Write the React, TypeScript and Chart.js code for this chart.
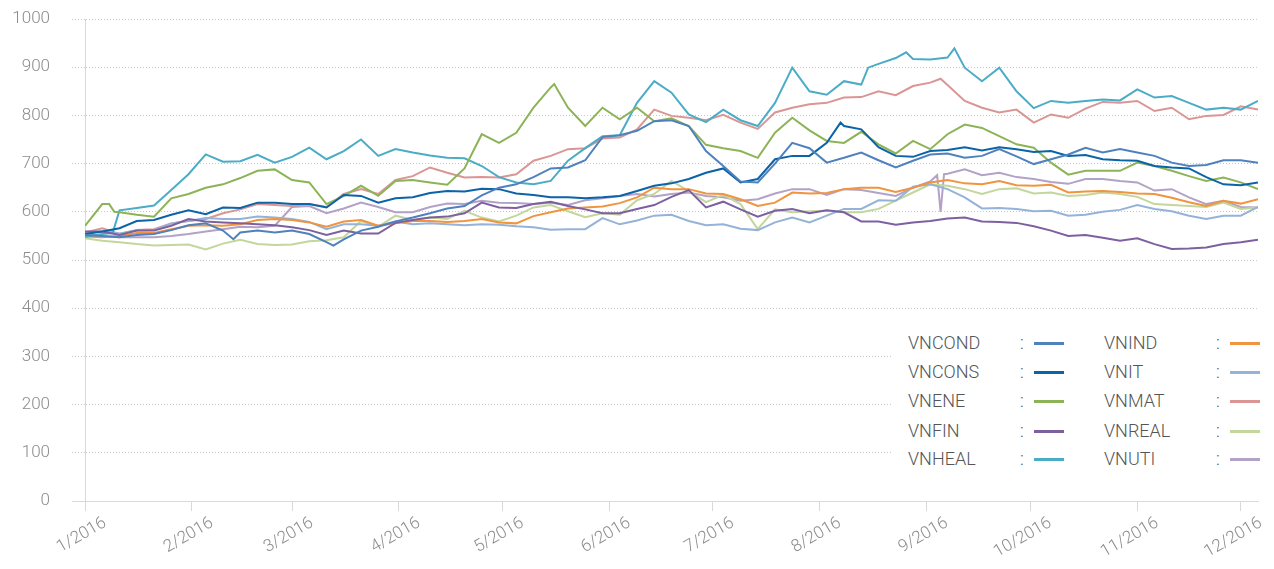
import React, { useEffect, useRef } from 'react';
import { Chart, registerables } from 'chart.js';

Chart.register(...registerables);

// Day of year (0 = 1 Jan 2016) for each sample
const days = [0, 5, 10, 15, 20, 25, 30, 35, 40, 45, 50, 55, 60, 65, 70, 75, 80, 85, 90, 95, 100, 105, 110, 115, 120, 125, 130, 135, 140, 145, 150, 155, 160, 165, 170, 175, 180, 185, 190, 195, 200, 205, 210, 215, 220, 225, 230, 235, 240, 245, 250, 255, 260, 265, 270, 275, 280, 285, 290, 295, 300, 305, 310, 315, 320, 325, 330, 335, 340];

const monthTickDays = [0, 31, 60, 91, 121, 152, 182, 213, 244, 274, 305, 335];
const monthTickLabels = ['1/2016', '2/2016', '3/2016', '4/2016', '5/2016', '6/2016', '7/2016', '8/2016', '9/2016', '10/2016', '11/2016', '12/2016'];

const seriesNames = ['VNCOND', 'VNCONS', 'VNENE', 'VNFIN', 'VNHEAL', 'VNIND', 'VNIT', 'VNMAT', 'VNREAL', 'VNUTI'];
const seriesColors = ['#4F81BD', '#0B63A8', '#8DB357', '#7D60A0', '#4BACC6', '#F0943F', '#95B3D7', '#D99694', '#C3D69B', '#B3A2C7'];

const vnCond = [552, 550, 547, 552, 554, 562, 572, 576, 561, 557, 561, 557, 561, 554,
  537, 543, 561, 569, 580, 588, 597, 607, 612, 634, 650, 657, 672, 690,
  692, 707, 755, 759, 768, 788, 790, 778, 726, 695, 663, 661, 700, 743,
  732, 702, 712, 723, 707, 692, 706, 719, 721, 712, 716, 730, 715,
  699, 709, 719, 733, 723, 730, 723, 716, 702, 695, 697, 707, 707, 702];
const vnCons = [554, 559, 566, 581, 583, 594, 603, 595, 609, 608, 619, 619, 616, 616,
  609, 635, 633, 619, 628, 630, 639, 643, 642, 648, 647, 638, 635, 630,
  630, 628, 630, 633, 643, 654, 659, 668, 681, 690, 661, 668, 709, 716,
  716, 743, 778, 771, 734, 716, 714, 726, 728, 734, 727, 734, 730,
  724, 726, 716, 718, 709, 707, 706, 695, 692, 690, 672, 657, 655, 661];
const vnEne = [571, 616, 599, 594, 590, 628, 637, 650, 657, 670, 685, 688, 666, 661,
  616, 633, 654, 633, 664, 666, 661, 656, 690, 761, 743, 764, 816, 858,
  816, 778, 816, 792, 816, 788, 794, 778, 739, 732, 726, 712, 764, 795,
  769, 747, 743, 766, 740, 721, 747, 730, 761, 781, 774, 757, 740,
  733, 702, 677, 685, 685, 685, 702, 695, 685, 674, 664, 671, 661, 647];
const vnFin = [559, 559, 552, 561, 561, 571, 585, 580, 578, 576, 574, 572, 568, 562,
  552, 561, 555, 555, 577, 583, 588, 590, 597, 619, 609, 608, 616, 621,
  612, 605, 597, 597, 606, 614, 631, 645, 609, 621, 605, 590, 602, 606,
  597, 603, 599, 580, 580, 573, 578, 581, 586, 588, 580, 579, 577,
  570, 561, 550, 552, 546, 540, 545, 533, 523, 524, 526, 533, 537, 542];
const vnHeal = [548, 554, 603, 608, 613, 645, 678, 719, 704, 705, 718, 702, 714, 733,
  709, 726, 750, 716, 730, 723, 717, 712, 711, 695, 672, 661, 657, 664,
  706, 732, 757, 759, 826, 871, 847, 802, 786, 812, 790, 778, 826, 899,
  850, 843, 871, 864, 907, 919, 917, 916, 920, 899, 871, 899, 850,
  815, 830, 826, 830, 833, 831, 854, 837, 840, 826, 812, 816, 812, 830];
const vnInd = [549, 547, 550, 556, 556, 564, 571, 572, 571, 574, 583, 585, 583, 578,
  569, 580, 583, 571, 576, 581, 581, 579, 581, 585, 578, 576, 591, 599,
  607, 609, 611, 618, 630, 650, 647, 647, 638, 637, 626, 612, 619, 640,
  638, 639, 647, 650, 650, 641, 650, 661, 666, 659, 657, 664, 655,
  654, 656, 640, 642, 643, 641, 638, 637, 629, 620, 612, 623, 617, 626];
const vnIt = [556, 559, 555, 561, 562, 576, 581, 587, 585, 585, 590, 588, 585, 579,
  564, 574, 574, 571, 580, 574, 576, 574, 572, 574, 573, 570, 568, 563,
  564, 564, 587, 574, 582, 592, 594, 581, 572, 574, 565, 562, 578, 588,
  578, 592, 606, 606, 624, 623, 652, 657, 647, 630, 607, 608, 606,
  601, 602, 592, 594, 600, 604, 614, 606, 601, 592, 585, 592, 592, 610];
const vnMat = [557, 566, 554, 562, 564, 576, 581, 585, 597, 605, 616, 614, 612, 616,
  610, 637, 647, 637, 666, 674, 692, 681, 671, 672, 671, 678, 706, 716,
  730, 732, 752, 754, 771, 812, 799, 795, 790, 801, 785, 772, 806, 816,
  823, 826, 837, 838, 850, 842, 861, 868, 863, 830, 816, 806, 812,
  785, 802, 795, 814, 828, 826, 830, 809, 816, 792, 799, 801, 819, 812];
const vnReal = [545, 540, 537, 533, 530, 531, 532, 522, 534, 542, 533, 531, 532, 539,
  541, 547, 581, 569, 592, 583, 588, 585, 602, 588, 580, 592, 609, 614,
  601, 589, 597, 594, 624, 637, 664, 643, 620, 635, 616, 564, 605, 599,
  601, 602, 599, 599, 606, 623, 640, 657, 654, 647, 637, 647, 649,
  638, 640, 633, 635, 640, 637, 631, 616, 614, 612, 610, 619, 606, 609];
const vnUti = [555, 550, 547, 547, 547, 550, 554, 559, 564, 569, 568, 571, 610, 612,
  597, 607, 619, 610, 599, 599, 610, 617, 616, 623, 619, 618, 616, 619,
  614, 624, 628, 633, 637, 632, 637, 640, 633, 630, 623, 626, 638, 647,
  647, 635, 647, 645, 639, 633, 650, 663, 679, 688, 676, 681, 672,
  668, 662, 658, 668, 668, 664, 661, 644, 647, 630, 616, 623, 610, 609];

// extra readings at sharp peaks / dips between the regular samples
const condExtraDays = [43, 72];
const condExtraValues = [543, 530];
const consExtraDays = [219];
const consExtraValues = [785];
const eneExtraDays = [7, 8.5, 136];
const eneExtraValues = [616, 600, 865];
const healExtraDays = [8, 227, 238, 252];
const healExtraValues = [556, 899, 931, 939];
const matExtraDays = [248];
const matExtraValues = [876];
const utiSpikeDays = [247, 248, 249];
const utiSpikeValues = [676, 600, 678];

const seriesValues = [vnCond, vnCons, vnEne, vnFin, vnHeal, vnInd, vnIt, vnMat, vnReal, vnUti];
const extraDaysList = [condExtraDays, consExtraDays, eneExtraDays, [], healExtraDays, [], [], matExtraDays, [], utiSpikeDays];
const extraValuesList = [condExtraValues, consExtraValues, eneExtraValues, [], healExtraValues, [], [], matExtraValues, [], utiSpikeValues];

const FONT = 'Roboto, "Helvetica Neue", Arial, sans-serif';

function buildPoints(idx: number) {
  const pts = days.map((d, i) => ({ x: d, y: seriesValues[idx][i] }));
  const ed: number[] = extraDaysList[idx];
  const ev: number[] = extraValuesList[idx];
  ed.forEach((d, i) => pts.push({ x: d, y: ev[i] }));
  pts.sort((a, b) => a.x - b.x);
  return pts;
}

export default function App() {
  const canvasRef = useRef<HTMLCanvasElement | null>(null);

  useEffect(() => {
    const canvas = canvasRef.current;
    if (!canvas) return;
    const chart = new Chart(canvas, {
      type: 'line',
      data: {
        datasets: seriesNames.map((name, i) => ({
          label: name,
          data: buildPoints(i),
          borderColor: seriesColors[i],
          backgroundColor: seriesColors[i],
          borderWidth: 2,
          pointRadius: 0,
          tension: 0,
          fill: false,
        })),
      },
      options: {
        animation: false,
        responsive: false,
        maintainAspectRatio: false,
        layout: { padding: { top: 19, right: 16, bottom: 0, left: 0 } },
        plugins: { legend: { display: false }, tooltip: { enabled: false } },
        scales: {
          x: {
            type: 'linear',
            min: 0,
            max: 340,
            afterBuildTicks: (scale: any) => {
              scale.ticks = monthTickDays.map((v) => ({ value: v }));
            },
            afterFit: (scale: any) => {
              scale.height = 68;
            },
            ticks: {
              autoSkip: false,
              maxRotation: 30,
              minRotation: 30,
              padding: 2,
              labelOffset: 20,
              color: '#8c8c8c',
              font: { family: FONT, size: 17, weight: '300' },
              callback: (_v: any, index: number) => monthTickLabels[index],
            },
            grid: {
              drawOnChartArea: false,
              drawTicks: true,
              tickLength: 10,
              color: '#d9d9d9',
              tickColor: '#d9d9d9',
            },
            border: { display: true, color: '#d9d9d9', width: 1 },
          },
          y: {
            min: 0,
            max: 1000,
            afterFit: (scale: any) => {
              scale.width = 85;
              scale.paddingTop = 0;
              scale.paddingBottom = 0;
            },
            ticks: {
              stepSize: 100,
              padding: 22,
              color: '#8c8c8c',
              font: { family: FONT, size: 17, weight: '300' },
              callback: (v: any) => String(v),
            },
            grid: {
              drawTicks: true,
              tickLength: 13,
              color: (ctx: any) => (ctx.tick && ctx.tick.value === 0 ? '#d9d9d9' : '#c8c8c8'),
              tickColor: (ctx: any) => (ctx.tick && ctx.tick.value === 0 ? '#d9d9d9' : '#c8c8c8'),
              tickBorderDash: (ctx: any) => (ctx.tick && ctx.tick.value === 0 ? [] : [1, 2]),
            },
            border: {
              display: true,
              color: '#d9d9d9',
              dash: (ctx: any) => (ctx.tick && ctx.tick.value === 0 ? [] : [1, 2]),
            },
          },
        },
      },
    } as any);
    return () => chart.destroy();
  }, []);

  const legendCols = [908, 1104];
  const legendRows = [343, 372, 401, 431, 459];

  return (
    <div style={{ position: 'fixed', left: 0, top: 0, width: 1274, height: 569, background: '#fff', overflow: 'hidden' }}>
      <canvas ref={canvasRef} width={1274} height={569} style={{ display: 'block', width: 1274, height: 569 }} />
      <div style={{ position: 'absolute', left: 893, top: 322, width: 381, height: 160, background: '#fff' }} />
      {seriesNames.map((name, i) => {
        const col = i < 5 ? 0 : 1;
        const row = i % 5;
        const left = legendCols[col];
        const cy = legendRows[row];
        return (
          <React.Fragment key={name}>
            <div style={{ position: 'absolute', left, top: cy - 11, height: 22, lineHeight: '22px', fontFamily: FONT, fontWeight: 300, fontSize: 18, color: '#555', whiteSpace: 'nowrap' }}>{name}</div>
            <div style={{ position: 'absolute', left: left + 112, top: cy - 11, height: 22, lineHeight: '22px', fontFamily: FONT, fontWeight: 300, fontSize: 18, color: '#555' }}>:</div>
            <div style={{ position: 'absolute', left: left + 126, top: cy - 1, width: 30, height: 3, background: seriesColors[i] }} />
          </React.Fragment>
        );
      })}
    </div>
  );
}
